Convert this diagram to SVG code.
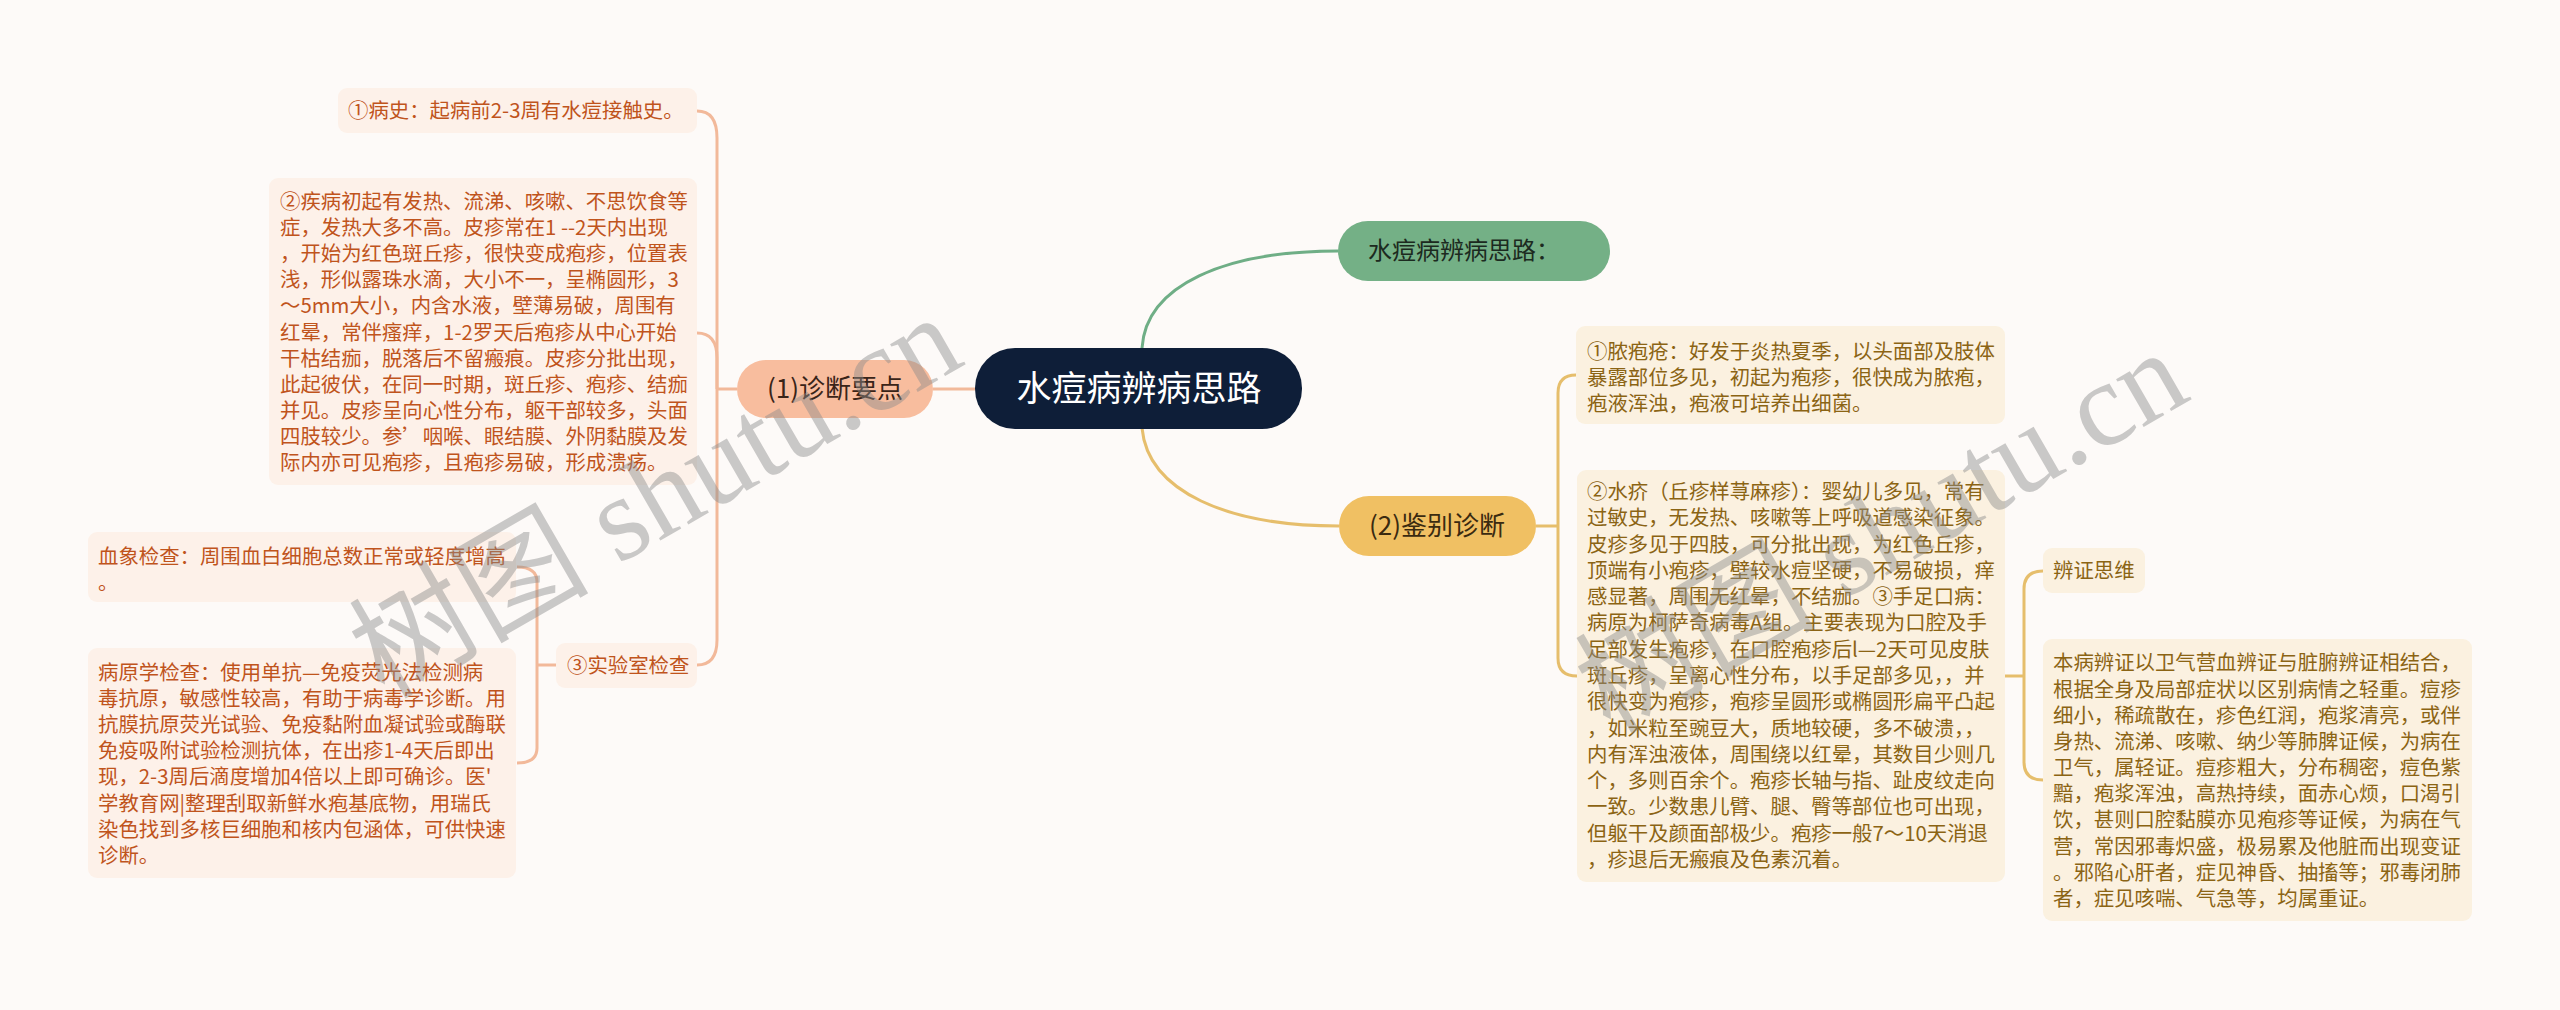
<svg xmlns="http://www.w3.org/2000/svg" width="2560" height="1010" viewBox="0 0 2560 1010">
<style>
.t{font-family:"Noto Sans CJK SC","Liberation Sans",sans-serif;}
.lbox{fill:#fdf1e9;}
.rbox{fill:#fbf1e0;}
.lt{font-size:20.4px;fill:#c0541c;}
.rt{font-size:20.4px;fill:#8b6414;}
.sal{fill:none;stroke:#f2b99a;stroke-width:3;}
.gold{fill:none;stroke:#e6be6c;stroke-width:3;}
.grn{fill:none;stroke:#6fae86;stroke-width:3;}
.wm{font-family:"Liberation Serif","Noto Sans CJK SC",serif;font-size:120px;fill:#8c8c8c;opacity:0.45;}
</style>
<rect width="2560" height="1010" fill="#fdfaf8"/>
<g id="connectors">
<path class="grn" d="M1142 348 C1146 285 1225 251 1338 251"/>
<path class="gold" d="M1142 428 C1148 492 1228 526 1339 526"/>
<path class="sal" d="M933 389 H975"/>
<path class="sal" d="M737 389 H717"/>
<path class="sal" d="M717 389 V138 Q717 111 697 111"/>
<path class="sal" d="M717 389 V358 Q717 333 697 333"/>
<path class="sal" d="M717 389 V640 Q717 665 697 665"/>
<path class="sal" d="M556 665 H537"/>
<path class="sal" d="M537 665 V582 Q537 567 517 567"/>
<path class="sal" d="M537 665 V748 Q537 763 517 763"/>
<path class="gold" d="M1536 526 H1558"/>
<path class="gold" d="M1558 526 V393 Q1558 375 1576 375"/>
<path class="gold" d="M1558 526 V658 Q1558 676 1577 676"/>
<path class="gold" d="M2005 676 H2024"/>
<path class="gold" d="M2024 676 V589 Q2024 571 2043 571"/>
<path class="gold" d="M2024 676 V762 Q2024 780 2043 780"/>
</g>
<g id="root">
<rect x="975" y="348" width="327" height="81" rx="40" fill="#0e1e38"/>
<text class="t" x="1139" y="401" font-size="35" fill="#ffffff" text-anchor="middle">水痘病辨病思路</text>
</g>
<g id="n-green">
<rect x="1338" y="221" width="272" height="60" rx="30" fill="#74b086"/>
<text class="t" x="1368" y="259" font-size="24" fill="#1c2a20">水痘病辨病思路：</text>
</g>
<g id="n-diag">
<rect x="737" y="360" width="196" height="58" rx="29" fill="#f8bd9e"/>
<text class="t" x="835" y="398" font-size="26" fill="#3a2418" text-anchor="middle">(1)诊断要点</text>
</g>
<g id="n-diff">
<rect x="1339" y="496" width="197" height="60" rx="30" fill="#f0c063"/>
<text class="t" x="1437" y="535" font-size="26" fill="#3a2a10" text-anchor="middle">(2)鉴别诊断</text>
</g>
<g id="n-history">
<rect class="lbox" x="338" y="88" width="359" height="45" rx="9"/>
<text class="t lt" x="348" y="118">①病史：起病前2-3周有水痘接触史。</text>
</g>
<g id="n-onset">
<rect class="lbox" x="269" y="178" width="428" height="307" rx="9"/>
<text class="t lt">
<tspan x="280" y="209">②疾病初起有发热、流涕、咳嗽、不思饮食等</tspan>
<tspan x="280" y="235">症，发热大多不高。皮疹常在1 --2天内出现</tspan>
<tspan x="280" y="261">，开始为红色斑丘疹，很快变成疱疹，位置表</tspan>
<tspan x="280" y="287">浅，形似露珠水滴，大小不一，呈椭圆形，3</tspan>
<tspan x="280" y="313">～5mm大小，内含水液，壁薄易破，周围有</tspan>
<tspan x="280" y="340">红晕，常伴瘙痒，1-2罗天后疱疹从中心开始</tspan>
<tspan x="280" y="366">干枯结痂，脱落后不留瘢痕。皮疹分批出现，</tspan>
<tspan x="280" y="392">此起彼伏，在同一时期，斑丘疹、疱疹、结痂</tspan>
<tspan x="280" y="418">并见。皮疹呈向心性分布，躯干部较多，头面</tspan>
<tspan x="280" y="444">四肢较少。参’咽喉、眼结膜、外阴黏膜及发</tspan>
<tspan x="280" y="470">际内亦可见疱疹，且疱疹易破，形成溃疡。</tspan>
</text>
</g>
<g id="n-lab">
<rect class="lbox" x="556" y="643" width="141" height="45" rx="9"/>
<text class="t lt" x="567" y="673">③实验室检查</text>
</g>
<g id="n-blood">
<rect class="lbox" x="88" y="532" width="428" height="70" rx="9"/>
<text class="t lt">
<tspan x="98" y="564">血象检查：周围血白细胞总数正常或轻度增高</tspan>
<tspan x="98" y="590">。</tspan>
</text>
</g>
<g id="n-pathogen">
<rect class="lbox" x="88" y="648" width="428" height="230" rx="9"/>
<text class="t lt">
<tspan x="98" y="680">病原学检查：使用单抗—免疫荧光法检测病</tspan>
<tspan x="98" y="706">毒抗原，敏感性较高，有助于病毒学诊断。用</tspan>
<tspan x="98" y="732">抗膜抗原荧光试验、免疫黏附血凝试验或酶联</tspan>
<tspan x="98" y="758">免疫吸附试验检测抗体，在出疹1-4天后即出</tspan>
<tspan x="98" y="784">现，2-3周后滴度增加4倍以上即可确诊。医'</tspan>
<tspan x="98" y="811">学教育网|整理刮取新鲜水疱基底物，用瑞氏</tspan>
<tspan x="98" y="837">染色找到多核巨细胞和核内包涵体，可供快速</tspan>
<tspan x="98" y="863">诊断。</tspan>
</text>
</g>
<g id="n-impetigo">
<rect class="rbox" x="1576" y="326" width="429" height="98" rx="9"/>
<text class="t rt">
<tspan x="1587" y="359">①脓疱疮：好发于炎热夏季，以头面部及肢体</tspan>
<tspan x="1587" y="385">暴露部位多见，初起为疱疹，很快成为脓疱，</tspan>
<tspan x="1587" y="411">疱液浑浊，疱液可培养出细菌。</tspan>
</text>
</g>
<g id="n-papular">
<rect class="rbox" x="1577" y="470" width="428" height="412" rx="9"/>
<text class="t rt">
<tspan x="1587" y="499">②水疥（丘疹样荨麻疹）：婴幼儿多见，常有</tspan>
<tspan x="1587" y="525">过敏史，无发热、咳嗽等上呼吸道感染征象。</tspan>
<tspan x="1587" y="552">皮疹多见于四肢，可分批出现，为红色丘疹，</tspan>
<tspan x="1587" y="578">顶端有小疱疹，壁较水痘坚硬，不易破损，痒</tspan>
<tspan x="1587" y="604">感显著，周围无红晕，不结痂。③手足口病：</tspan>
<tspan x="1587" y="630">病原为柯萨奇病毒A组。主要表现为口腔及手</tspan>
<tspan x="1587" y="657">足部发生疱疹，在口腔疱疹后l—2天可见皮肤</tspan>
<tspan x="1587" y="683">斑丘疹，呈离心性分布，以手足部多见，，并</tspan>
<tspan x="1587" y="709">很快变为疱疹，疱疹呈圆形或椭圆形扁平凸起</tspan>
<tspan x="1587" y="736">，如米粒至豌豆大，质地较硬，多不破溃，，</tspan>
<tspan x="1587" y="762">内有浑浊液体，周围绕以红晕，其数目少则几</tspan>
<tspan x="1587" y="788">个，多则百余个。疱疹长轴与指、趾皮纹走向</tspan>
<tspan x="1587" y="814">一致。少数患儿臂、腿、臀等部位也可出现，</tspan>
<tspan x="1587" y="841">但躯干及颜面部极少。疱疹一般7～10天消退</tspan>
<tspan x="1587" y="867">，疹退后无瘢痕及色素沉着。</tspan>
</text>
</g>
<g id="n-thinking">
<rect class="rbox" x="2043" y="548" width="102" height="45" rx="9"/>
<text class="t rt" x="2053" y="578">辨证思维</text>
</g>
<g id="n-syndrome">
<rect class="rbox" x="2043" y="639" width="429" height="282" rx="9"/>
<text class="t rt">
<tspan x="2053" y="670">本病辨证以卫气营血辨证与脏腑辨证相结合，</tspan>
<tspan x="2053" y="697">根据全身及局部症状以区别病情之轻重。痘疹</tspan>
<tspan x="2053" y="723">细小，稀疏散在，疹色红润，疱浆清亮，或伴</tspan>
<tspan x="2053" y="749">身热、流涕、咳嗽、纳少等肺脾证候，为病在</tspan>
<tspan x="2053" y="775">卫气，属轻证。痘疹粗大，分布稠密，痘色紫</tspan>
<tspan x="2053" y="801">黯，疱浆浑浊，高热持续，面赤心烦，口渴引</tspan>
<tspan x="2053" y="827">饮，甚则口腔黏膜亦见疱疹等证候，为病在气</tspan>
<tspan x="2053" y="854">营，常因邪毒炽盛，极易累及他脏而出现变证</tspan>
<tspan x="2053" y="880">。邪陷心肝者，症见神昏、抽搐等；邪毒闭肺</tspan>
<tspan x="2053" y="906">者，症见咳喘、气急等，均属重证。</tspan>
</text>
</g>
<text class="wm" x="384" y="700" transform="rotate(-30 384 700)">树图 shutu.cn</text>
<text class="wm" x="1610" y="735" transform="rotate(-30 1610 735)">树图 shutu.cn</text>
</svg>
